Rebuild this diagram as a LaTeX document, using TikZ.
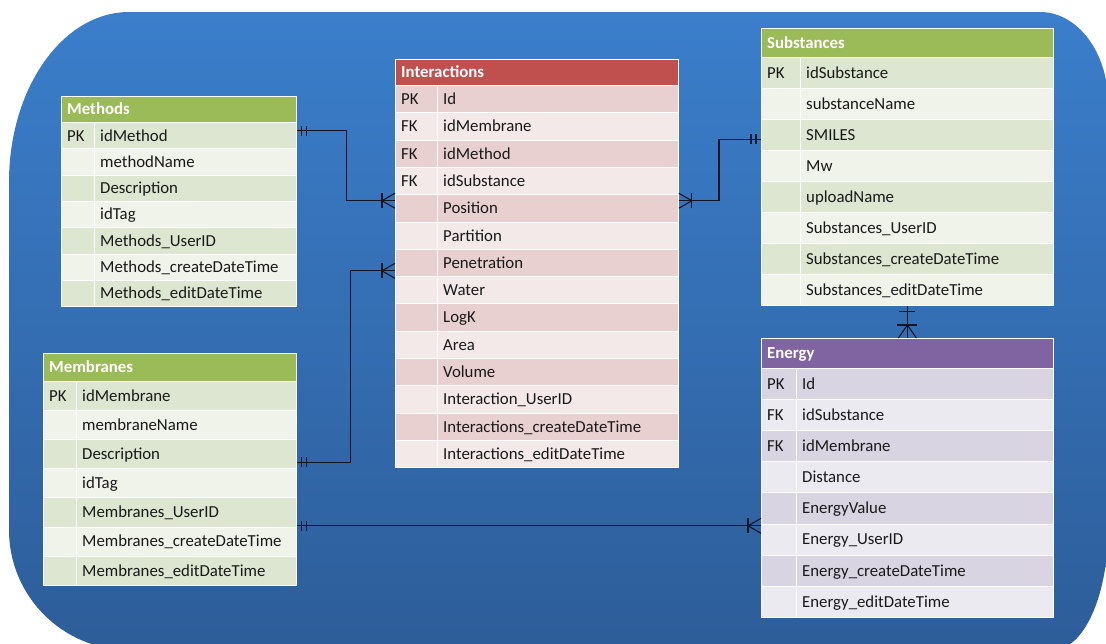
\documentclass[tikz,border=0pt]{standalone}
\usepackage{fontspec}
\setmainfont{Carlito}
\usetikzlibrary{calc}
\definecolor{bgtop}{RGB}{59,126,203}
\definecolor{bgbot}{RGB}{45,93,153}
\definecolor{grhead}{RGB}{155,187,89}
\definecolor{grdark}{RGB}{220,230,209}
\definecolor{grlight}{RGB}{239,243,234}
\definecolor{rdhead}{RGB}{192,80,77}
\definecolor{rddark}{RGB}{232,208,208}
\definecolor{rdlight}{RGB}{243,233,233}
\definecolor{puhead}{RGB}{128,100,162}
\definecolor{pudark}{RGB}{216,212,226}
\definecolor{pulight}{RGB}{236,234,241}
\definecolor{txt}{RGB}{25,25,25}
\definecolor{lnk}{RGB}{18,22,36}

\tikzset{
  hdrbox/.style={rectangle, anchor=north west, inner sep=0pt, draw=white, line width=0.8pt},
  rowbox/.style={rectangle, anchor=north west, inner sep=0pt, draw=white, line width=0.8pt},
  divider/.style={draw=white, line width=0.8pt},
  hdrtext/.style={anchor=base west, inner sep=0pt, text=white, font=\fontsize{16.8}{19}\selectfont\bfseries},
  celltext/.style={anchor=base west, inner sep=0pt, text=txt, font=\fontsize{16.8}{19}\selectfont},
  conn/.style={draw=lnk, line width=1.1pt},
  crow/.pic={\draw[conn] (-13,-7.5) -- (-13,7.5);
             \draw[conn] (0,-7.5) -- (-13,0) -- (0,7.5);},
  bigcrow/.pic={\draw[conn] (-13,-10) -- (-13,10);
             \draw[conn] (0,-9) -- (-13,0) -- (0,9);},
  oneone/.pic={\draw[conn] (-5,-5) -- (-5,5);
               \draw[conn] (-10,-5) -- (-10,5);},
  onebar/.pic={\draw[conn] (-6,-8) -- (-6,8);}
}

\newcommand\ertable[4]{%
  \node[hdrbox, fill=#3head, minimum width=\tW pt, minimum height=\tH pt] (#1) at (\tX,\tY) {};
  \node[hdrtext] (#1-title) at ([xshift=6pt,yshift=-5.5pt]#1.west) {#2};
  \foreach \k/\f [count=\i] in {#4} {
    \pgfmathsetmacro\ry{\tY+\tH+(\i-1)*\tR}
    \ifodd\i \def\rc{#3dark}\else\def\rc{#3light}\fi
    \node[rowbox, fill=\rc, minimum width=\tW pt, minimum height=\tR pt] (#1-\i) at (\tX,\ry) {};
    \draw[divider] ([xshift=\tK pt]#1-\i.north west) -- ([xshift=\tK pt]#1-\i.south west);
    \node[celltext] (#1-\i-k) at ([xshift=6pt,yshift=-5.5pt]#1-\i.west) {\k};
    \node[celltext] (#1-\i-f) at ([xshift=\tK pt+6pt,yshift=-5.5pt]#1-\i.west) {\f};
  }
}

\begin{document}
\begin{tikzpicture}[x=1pt,y=-1pt]
\useasboundingbox (0,0) rectangle (1106,643);
\clip (0,0) rectangle (1106,643);
\shade[top color=bgtop, bottom color=bgbot]
  (9,182) .. controls (9,88.2) and (62.8,12) .. (129,12)
  -- (1040,12) .. controls (1077.5,12) and (1108,52.3) .. (1108,102)
  -- (1108,530) .. controls (1108,596.2) and (1083.4,650) .. (1053,650)
  -- (129,650) .. controls (62.8,650) and (9,596.2) .. (9,530) -- cycle;

% Methods
\def\tX{61}\def\tY{96}\def\tW{235}\def\tH{26}\def\tR{26.3}\def\tK{33}
\ertable{methods}{Methods}{gr}{PK/idMethod, /methodName, /Description, /idTag, /Methods\_UserID, /Methods\_createDateTime, /Methods\_editDateTime}

% Interactions
\def\tX{395}\def\tY{59}\def\tW{283}\def\tH{26}\def\tR{27.3}\def\tK{42}
\ertable{interactions}{Interactions}{rd}{PK/Id, FK/idMembrane, FK/idMethod, FK/idSubstance, /Position, /Partition, /Penetration, /Water, /LogK, /Area, /Volume, /Interaction\_UserID, /Interactions\_createDateTime, /Interactions\_editDateTime}

% Substances
\def\tX{761}\def\tY{28}\def\tW{292}\def\tH{29}\def\tR{31}\def\tK{39}
\ertable{substances}{Substances}{gr}{PK/idSubstance, /substanceName, /SMILES, /Mw, /uploadName, /Substances\_UserID, /Substances\_createDateTime, /Substances\_editDateTime}

% Energy
\def\tX{761}\def\tY{338}\def\tW{292}\def\tH{30}\def\tR{31.1}\def\tK{35}
\ertable{energy}{Energy}{pu}{PK/Id, FK/idSubstance, FK/idMembrane, /Distance, /EnergyValue, /Energy\_UserID, /Energy\_createDateTime, /Energy\_editDateTime}

% Membranes
\def\tX{43}\def\tY{353}\def\tW{253}\def\tH{28}\def\tR{29.1}\def\tK{33}
\ertable{membranes}{Membranes}{gr}{PK/idMembrane, /membraneName, /Description, /idTag, /Membranes\_UserID, /Membranes\_createDateTime, /Membranes\_editDateTime}

% connector end points
\coordinate (m1) at ([yshift=5pt]methods-1.east);
\coordinate (i1) at ([yshift=7.5pt]interactions-5.west);
\coordinate (s1) at ([yshift=-4.5pt]substances-3.west);
\coordinate (i2) at ([yshift=7.5pt]interactions-5.east);
\coordinate (mb3) at ([yshift=-8pt]membranes-3.east);
\coordinate (i3) at ([yshift=-8pt]interactions-7.west);
\coordinate (mb5) at ([yshift=1.5pt]membranes-5.south east);
\coordinate (e4) at (mb5 -| energy.west);
\coordinate (s8) at (substances-8.south);
\coordinate (e5) at (energy.north);

\draw[conn] (m1) -- ++(50,0) |- (i1);
\pic[rotate=180] at (m1) {oneone};
\pic at (i1) {crow};

\draw[conn] (s1) -- ++(-42,0) |- (i2);
\pic at (s1) {oneone};
\pic[rotate=180] at (i2) {crow};

\draw[conn] (mb3) -- ++(54,0) |- (i3);
\pic[rotate=180] at (mb3) {oneone};
\pic at (i3) {crow};

\draw[conn] (mb5) -- (e4);
\pic[rotate=180] at (mb5) {oneone};
\pic at (e4) {crow};

\draw[conn] (s8) -- (e5);
\pic[rotate=90] at (s8) {onebar};
\pic[rotate=-90] at (e5) {bigcrow};
\end{tikzpicture}
\end{document}
